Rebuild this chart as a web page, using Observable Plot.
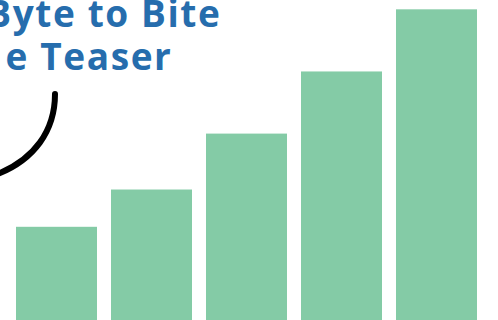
<!DOCTYPE html>
<html>
<head>
<meta charset="utf-8">
<script src="https://cdn.jsdelivr.net/npm/d3@7"></script>
<script src="https://cdn.jsdelivr.net/npm/@observablehq/plot@0.6"></script>
<style>
  html, body { margin: 0; padding: 0; background: #fff; overflow: hidden; }
</style>
</head>
<body>
<div id="chart"></div>
<script>
const categories = ["A", "B", "C", "D", "E"];
const values = [30, 42, 60, 80, 100];
const titleLine1 = ["Byte to Bite"];
const titleLine2 = ["e Teaser"];

const data = categories.map((c, i) => ({ cat: c, value: values[i] }));

const titleStyle = {
  frameAnchor: "top-left",
  textAnchor: "end",
  lineAnchor: "middle",
  fill: "#266dad",
  fontSize: 37,
  fontWeight: 700,
  fontFamily: "'Open Sans', sans-serif"
};

const chart = Plot.plot({
  width: 498,
  height: 320,
  marginLeft: 1,
  marginRight: 6,
  marginTop: 0,
  marginBottom: 0,
  x: { domain: categories, padding: 0.15, axis: null },
  y: { domain: [0, 103], axis: null },
  marks: [
    Plot.barY(data, { x: "cat", y: "value", fill: "#84cba6" }),
    Plot.text(titleLine1, { ...titleStyle, text: d => d, dx: 220, dy: 15 }),
    Plot.text(titleLine2, { ...titleStyle, text: d => d, dx: 171, dy: 58 })
  ],
  style: { background: "#fff", overflow: "hidden" }
});

const svg = d3.select(chart);
svg.selectAll("text").attr("letter-spacing", "1.6px");

// decorative speech tail
const p = d3.path();
p.moveTo(55, 94);
p.bezierCurveTo(55, 130, 35, 160, -5, 175);
svg.append("path")
  .attr("d", p.toString())
  .attr("fill", "none")
  .attr("stroke", "#000")
  .attr("stroke-width", 6)
  .attr("stroke-linecap", "round");

document.getElementById("chart").appendChild(chart);
</script>
</body>
</html>
